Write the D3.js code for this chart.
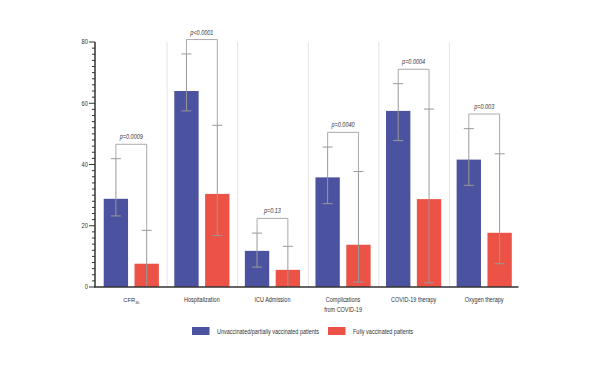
<!DOCTYPE html>
<html>
<head>
<meta charset="utf-8">
<script src="https://cdn.jsdelivr.net/npm/d3@7"></script>
<style>
  body{margin:0;background:#fff;}
  svg{display:block;font-family:"Liberation Sans",Arial,sans-serif;}
  .tick-label{font-size:7px;fill:#333;}
  .cat-label{font-size:6.7px;fill:#333;}
  .cfr-label{font-size:5.8px;fill:#333;}
  .pval{font-size:6.7px;font-style:italic;fill:#333;}
  .legend-label{font-size:6.7px;fill:#333;}
</style>
</head>
<body>
<div id="chart"></div>
<script>
// categories and series (percent)
var categories=["CFR30","Hospitalization","ICU Admission","Complications from COVID-19","COVID-19 therapy","Oxygen therapy"];
var unvaccinated=[28.8,64.0,11.8,35.8,57.5,41.6];
var unvaxLow=[23.2,57.5,6.5,27.2,47.8,33.2];
var unvaxHigh=[41.9,76.1,17.6,45.7,66.4,51.7];
var fullyVaccinated=[7.6,30.4,5.6,13.8,28.7,17.7];
var fullyLow=[0,16.8,0,1.6,1.4,7.6];
var fullyHigh=[18.5,52.8,13.3,37.7,58.1,43.5];
var pValues=["p=0.0009","p<0.0001","p=0.13","p=0.0040","p=0.0004","p=0.003"];
var bracketLevel=[46.6,80.8,22.4,50.5,71.1,56.5];
var yTicks=[0,20,40,60,80];

var W=600,H=365;
var svg=d3.select("#chart").append("svg").attr("width",W).attr("height",H);

var x=d3.scaleBand().domain(categories).range([96,519.5]).paddingInner(0).paddingOuter(0);
var xs=d3.scaleBand().domain(["u","f"]).range([0,x.bandwidth()]).paddingInner(0.21).paddingOuter(0.25);
var y=d3.scaleLinear().domain([0,80]).range([287,42]);

var cBlue="#4b529f", cRed="#ec5346", cErr="#999999";

// vertical group separators
svg.selectAll("line.sep").data(categories.slice(1)).enter().append("line").attr("class","sep")
    .attr("x1",function(d){return x(d)+0.5;}).attr("x2",function(d){return x(d)+0.5;})
    .attr("y1",y(80)).attr("y2",y(0)).attr("stroke","#e4e4e4").attr("stroke-width",1);

var rows=categories.map(function(c,i){
    return {cat:c,i:i,bars:[
        {k:"u",v:unvaccinated[i],lo:unvaxLow[i],hi:unvaxHigh[i],col:cBlue},
        {k:"f",v:fullyVaccinated[i],lo:fullyLow[i],hi:fullyHigh[i],col:cRed}
    ]};
});

var grp=svg.selectAll("g.grp").data(rows).enter().append("g").attr("class","grp")
    .attr("transform",function(d){return "translate("+x(d.cat)+",0)";});

grp.selectAll("rect").data(function(d){return d.bars;}).enter().append("rect")
    .attr("x",function(d){return xs(d.k);}).attr("width",xs.bandwidth())
    .attr("y",function(d){return y(d.v);}).attr("height",function(d){return y(0)-y(d.v);})
    .attr("fill",function(d){return d.col;});

// error bars + p-value brackets
var cap=5;
grp.each(function(d){
    var g=d3.select(this);
    d.bars.forEach(function(b){
        var cx=xs(b.k)+xs.bandwidth()/2;
        g.append("line").attr("x1",cx).attr("x2",cx).attr("y1",y(b.hi)).attr("y2",y(b.lo)).attr("stroke",cErr).attr("stroke-width",1);
        g.append("line").attr("x1",cx-cap).attr("x2",cx+cap).attr("y1",y(b.hi)).attr("y2",y(b.hi)).attr("stroke",cErr).attr("stroke-width",1);
        if(b.lo>0) g.append("line").attr("x1",cx-cap).attr("x2",cx+cap).attr("y1",y(b.lo)).attr("y2",y(b.lo)).attr("stroke",cErr).attr("stroke-width",1);
    });
    var x1=xs("u")+xs.bandwidth()/2, x2=xs("f")+xs.bandwidth()/2, by=y(bracketLevel[d.i]);
    g.append("path").attr("fill","none").attr("stroke","#aaaaaa").attr("stroke-width",1)
        .attr("d","M"+x1+","+y(d.bars[0].hi)+"V"+by+"H"+x2+"V"+y(d.bars[1].hi));
    g.append("text").attr("class","pval").attr("x",(x1+x2)/2).attr("y",by-5)
        .attr("text-anchor","middle").text(pValues[d.i]);
});

// y axis with minor ticks every 2
var ax=svg.append("g").attr("transform","translate(95,0)");
ax.append("line").attr("x1",0).attr("x2",0).attr("y1",y(80)).attr("y2",y(0)).attr("stroke","#333").attr("stroke-width",1.5);
ax.selectAll("line.minor").data(d3.range(0,81,2)).enter().append("line").attr("class","minor")
    .attr("x1",function(d){return d%20===0?-6:-3;}).attr("x2",0)
    .attr("y1",function(d){return y(d);}).attr("y2",function(d){return y(d);})
    .attr("stroke","#333").attr("stroke-width",1);
ax.selectAll("text").data(yTicks).enter().append("text").attr("class","tick-label")
    .attr("x",-7).attr("y",function(d){return y(d)+2.4;}).attr("text-anchor","end").text(function(d){return d;});

// x axis baseline
svg.append("line").attr("x1",94).attr("x2",518.5).attr("y1",y(0)).attr("y2",y(0)).attr("stroke","#333").attr("stroke-width",1.5);

// category labels
categories.forEach(function(c){
    var cx=x(c)+x.bandwidth()/2;
    if(c==="Complications from COVID-19"){
        ["Complications","from COVID-19"].forEach(function(s,j){
            svg.append("text").attr("class","cat-label").attr("x",cx).attr("y",302+j*9.5).attr("text-anchor","middle").text(s);
        });
    }else if(c==="CFR30"){
        var t=svg.append("text").attr("class","cfr-label").attr("x",cx).attr("y",302).attr("text-anchor","middle");
        t.append("tspan").text("CFR");
        t.append("tspan").attr("dy",1.6).style("font-size","3.8px").text("30");
    }else{
        svg.append("text").attr("class","cat-label").attr("x",cx).attr("y",302).attr("text-anchor","middle").text(c);
    }
});

// legend
var lg=svg.append("g");
lg.append("rect").attr("x",192).attr("y",327).attr("width",17.5).attr("height",8).attr("fill",cBlue);
lg.append("text").attr("class","legend-label").attr("x",217).attr("y",333.5).text("Unvaccinated/partially vaccinated patients");
lg.append("rect").attr("x",328).attr("y",327).attr("width",17.5).attr("height",8).attr("fill",cRed);
lg.append("text").attr("class","legend-label").attr("x",353).attr("y",333.5).text("Fully vaccinated patients");

// the original uses a condensed face: squeeze the text horizontally
svg.selectAll("text.cat-label,text.pval,text.legend-label,text.tick-label").each(function(){
    var len=this.getComputedTextLength();
    d3.select(this).attr("textLength",len*0.82).attr("lengthAdjust","spacingAndGlyphs");
});
</script>
</body>
</html>
